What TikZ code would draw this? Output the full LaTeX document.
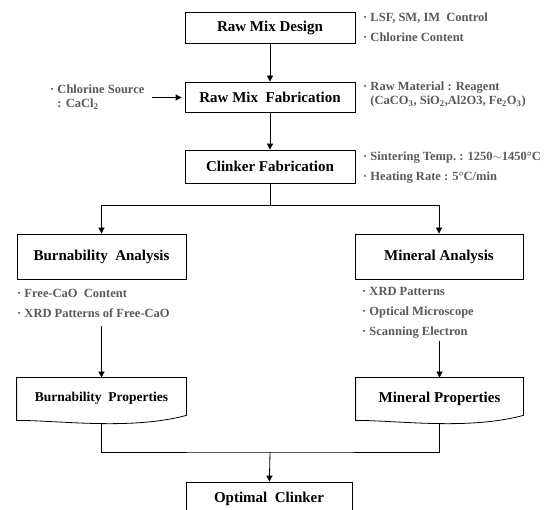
\documentclass[tikz,border=0pt]{standalone}
\usepackage{fontspec}
\setmainfont{Liberation Serif}
\usetikzlibrary{arrows.meta}
\definecolor{notegray}{RGB}{89,89,89}

\begin{document}
\begin{tikzpicture}[x=1pt,y=-1pt,
    box/.style={draw,line width=0.8pt,minimum width=170pt,minimum height=31pt,inner sep=0pt,
      font=\bfseries\fontsize{15}{17}\selectfont},
    doc/.style={box,draw=none,minimum height=46pt,text depth=8pt},
    note/.style={anchor=west,align=left,inner sep=0pt,text=notegray,
      font=\bfseries\fontsize{12.5}{20}\selectfont},
    tight/.style={font=\bfseries\fontsize{12.5}{14}\selectfont},
    arr/.style={-{Triangle[length=6pt,width=6pt]},line width=0.8pt},
    line/.style={line width=0.8pt}]
  \useasboundingbox (0,0) rectangle (560,510);
  % main column
  \foreach \n/\y/\h/\t in {RMD/27.5/31/Raw Mix Design, RMF/97/30/Raw Mix\ \ Fabrication, CF/166.5/33/Clinker Fabrication} {
    \node[box,minimum height=\h pt] (\n) at (270,\y) {\t};
  }
  \node[box,minimum width=169pt,minimum height=45pt] (BA) at (101.5,256.5) {Burnability\ \ Analysis};
  \node[box,minimum width=168pt,minimum height=45pt] (MA) at (439,256.5) {Mineral Analysis};
  \node[doc,minimum width=169pt,font=\bfseries\fontsize{13.5}{16}\selectfont] (BP) at (101.5,401) {Burnability\ \ Properties};
  \node[doc,minimum width=167pt] (MP) at (439.5,401) {Mineral Properties};
  \node[box,minimum width=166pt,minimum height=34pt] (OC) at (269,499) {Optimal\ \ Clinker};
  % notes
  \node[note] (RMDn) at (363,27) {· LSF, SM, IM\ \ Control\\· Chlorine Content};
  \node[note,tight] (RMFn) at (363,94.5) {· Raw Material : Reagent\\\hphantom{· }(CaCO\textsubscript{3}, SiO\textsubscript{2},Al2O3, Fe\textsubscript{2}O\textsubscript{3})};
  \node[note] (CFn) at (363,168) {· Sintering Temp.\ : 1250$\sim$1450°C\\· Heating Rate : 5°C/min};
  \node[note,tight] (CSn) at (50,97.5) {· Chlorine Source\\\hphantom{· }: CaCl\textsubscript{2}};
  \node[note] (BAn) at (17,303) {· Free-CaO\ \ Content\\· XRD Patterns of Free-CaO};
  \node[note] (MAn) at (362,313) {· XRD Patterns\\· Optical Microscope\\· Scanning Electron};
  % document outlines
  \draw[line] (BP.north west) -- (BP.north east) -- ([yshift=9pt]BP.south east)
    .. controls +(-56pt,-15pt) and +(43pt,0pt) .. ([yshift=4pt]BP.south west) -- cycle;
  \draw[line] (MP.north west) -- (MP.north east) -- ([yshift=9pt]MP.south east)
    .. controls +(-56pt,-15pt) and +(43pt,0pt) .. ([yshift=4pt]MP.south west) -- cycle;
  % connectors
  \coordinate (br) at (270,205);
  \coordinate (jn) at (270,452);
  \draw[arr] (RMD) -- (RMF);
  \draw[arr] (RMF) -- (CF);
  \draw[arr,shorten <=7pt,shorten >=3pt] (CSn.east) -- (CSn.east -| RMF.west);
  \draw[line] (CF) -- (br);
  \draw[arr] (br) -| (BA);
  \draw[arr] (br) -| (MA);
  \draw[arr,shorten <=9pt] (BAn.south -| BP.north) -- (BP);
  \draw[arr,shorten <=2pt] (MAn.south -| MP.north) -- (MP);
  \draw[line] (BP.south) |- (jn) -| (MP.south);
  \draw[arr] (jn) -- (OC);
\end{tikzpicture}
\end{document}
